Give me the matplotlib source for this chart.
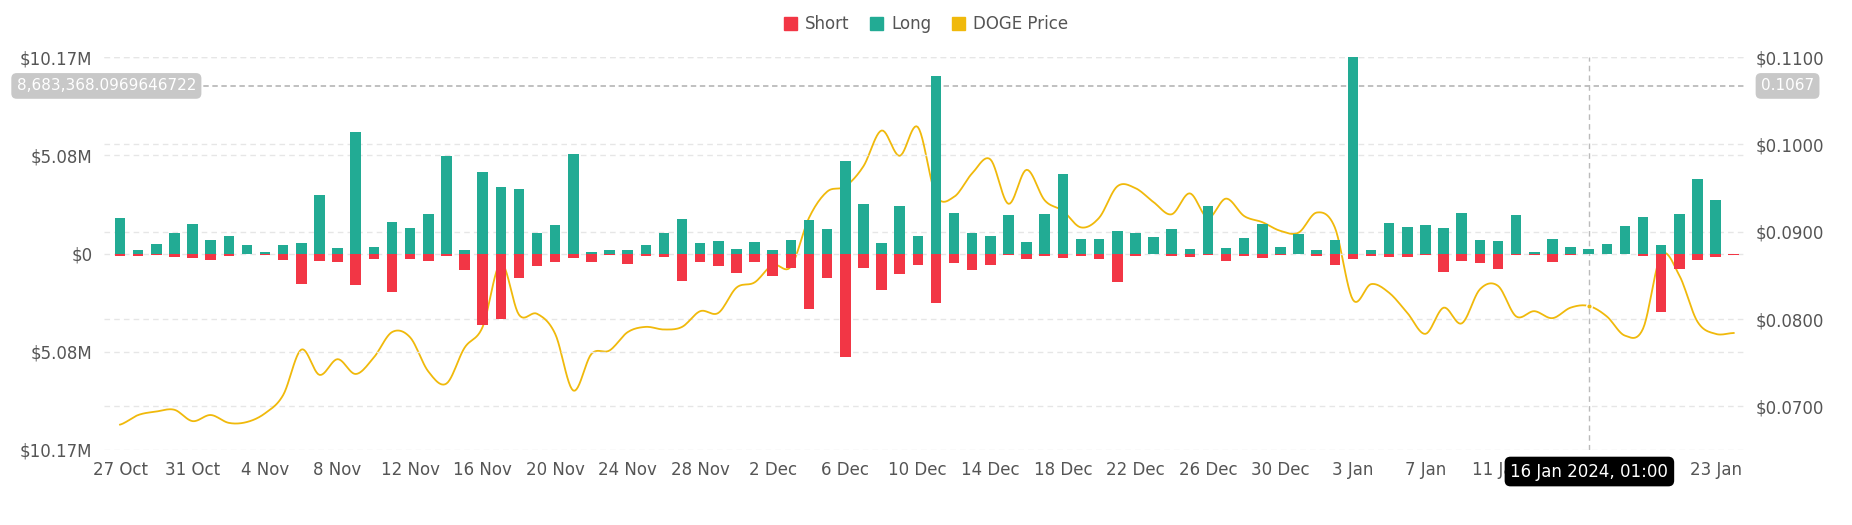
import numpy as np
import matplotlib
matplotlib.use("Agg")
import matplotlib.pyplot as plt
import matplotlib.transforms as mtransforms
from matplotlib.patches import Patch
import datetime as dt

start = dt.date(2023, 10, 27)
dates = [start + dt.timedelta(days=i) for i in range(90)]

long_m = [1.82,0.21,0.51,1.09,1.54,0.72,0.89,0.47,0.09,0.47,0.54,3.04,0.28,6.3,0.32,1.61,1.30,2.07,5.04,0.21,
          4.21,3.44,3.37,1.05,1.49,5.18,0.07,0.21,0.19,0.42,1.05,1.79,0.53,0.63,0.26,0.58,0.21,0.68,1.72,1.26,
          4.81,2.56,0.53,2.47,0.89,9.21,2.11,1.07,0.93,1.98,0.58,2.07,4.14,0.77,0.74,1.18,1.04,0.84,1.26,0.25,
          2.47,0.28,0.82,1.53,0.35,1.0,0.16,0.72,10.3,0.16,1.58,1.4,1.49,1.32,2.12,0.68,0.63,1.98,0.09,0.74,
          0.33,0.23,0.49,1.44,1.88,0.47,2.04,3.86,2.77,0.0]
short_m = [0.14,0.14,0.09,0.19,0.25,0.32,0.1,0.04,0.09,0.32,1.6,0.37,0.44,1.65,0.3,2.0,0.28,0.4,0.12,0.84,
           3.7,3.4,1.28,0.65,0.46,0.21,0.44,0.05,0.54,0.1,0.19,1.44,0.46,0.63,1.02,0.46,1.18,0.77,2.89,1.25,
           5.35,0.77,1.89,1.05,0.61,2.54,0.49,0.84,0.58,0.05,0.28,0.1,0.25,0.12,0.3,1.46,0.14,0.0,0.14,0.19,
           0.05,0.37,0.14,0.23,0.05,0.04,0.14,0.6,0.28,0.14,0.18,0.18,0.05,0.96,0.37,0.49,0.81,0.07,0.05,0.44,
           0.05,0.04,0.0,0.02,0.14,3.04,0.81,0.35,0.18,0.07]
price = [0.0679,0.0690,0.0694,0.0696,0.0683,0.0690,0.0681,0.0682,0.0692,0.0713,0.0765,0.0736,0.0754,0.0737,0.0756,
         0.0785,0.0779,0.0740,0.0726,0.0767,0.0791,0.0864,0.0805,0.0806,0.0783,0.0718,0.0760,0.0764,0.0785,0.0791,
         0.0788,0.0791,0.0809,0.0807,0.0836,0.0842,0.0862,0.0860,0.0916,0.0946,0.0952,0.0975,0.1016,0.0987,0.1020,
         0.0942,0.0940,0.0967,0.0983,0.0932,0.0971,0.0936,0.0924,0.0905,0.0916,0.0952,0.0950,0.0934,0.0920,0.0944,
         0.0916,0.0938,0.0918,0.0911,0.0901,0.0899,0.0922,0.0905,0.0822,0.0840,0.0830,0.0807,0.0783,0.0813,0.0795,
         0.0834,0.0838,0.0803,0.0809,0.0801,0.0813,0.0815,0.0803,0.0781,0.0789,0.0873,0.0850,0.0797,0.0783,0.0784]

C_SHORT = "#F23645"; C_LONG = "#22AB94"; C_PRICE = "#F0B90B"; GRID = "#e6e6e6"; TXT = "#555555"

def catmull(x, y, n=12):
    x = np.asarray(x, float); y = np.asarray(y, float)
    xs, ys = [], []
    for i in range(len(x) - 1):
        p0 = y[max(i - 1, 0)]; p1 = y[i]; p2 = y[i + 1]; p3 = y[min(i + 2, len(y) - 1)]
        t = np.linspace(0, 1, n, endpoint=False)
        ys.append(0.5 * ((2 * p1) + (-p0 + p2) * t + (2 * p0 - 5 * p1 + 4 * p2 - p3) * t**2 + (-p0 + 3 * p1 - 3 * p2 + p3) * t**3))
        xs.append(x[i] + (x[i + 1] - x[i]) * t)
    xs.append([x[-1]]); ys.append([y[-1]])
    return np.concatenate(xs), np.concatenate(ys)

fig = plt.figure(figsize=(18.52, 5.25), dpi=100)
ax = fig.add_axes([0.056, 0.143, 0.886, 0.748])
x = np.arange(len(dates))
ax.bar(x, long_m, width=0.58, color=C_LONG, zorder=2)
ax.bar(x, [-v for v in short_m], width=0.58, color=C_SHORT, zorder=2)
ax.set_ylim(-10.17, 10.17)
ax.set_xlim(-0.9, 89.6)
ax.set_yticks([-10.17, -5.08, 0, 5.08, 10.17])
ax.set_yticklabels(["$10.17M", "$5.08M", "$0", "$5.08M", "$10.17M"])
for v in [-10.17, -5.08, 0, 5.08, 10.17]:
    ax.axhline(v, color=GRID, ls=(0, (4, 3)), lw=1, zorder=0)
ticks = list(range(0, 90, 4))
ax.set_xticks(ticks)
ax.set_xticklabels([f"{dates[i].day} {dates[i].strftime('%b')}" for i in ticks])
for s in ax.spines.values():
    s.set_visible(False)
ax.tick_params(length=0, labelsize=12, colors=TXT, pad=8)

ax2 = ax.twinx()
px, py = catmull(x, price)
ax2.plot(px, py, color=C_PRICE, lw=1.3, zorder=3)
ax2.set_ylim(0.065, 0.110)
ax2.set_yticks([0.07, 0.08, 0.09, 0.10, 0.11])
ax2.set_yticklabels([f"${v:.4f}" for v in [0.07, 0.08, 0.09, 0.10, 0.11]])
for v in [0.07, 0.08, 0.09, 0.10, 0.11]:
    ax2.axhline(v, color=GRID, ls=(0, (4, 3)), lw=1, zorder=0)
for s in ax2.spines.values():
    s.set_visible(False)
ax2.tick_params(length=0, labelsize=12, colors=TXT, pad=8)
ax.set_zorder(ax2.get_zorder() + 1); ax.patch.set_visible(False)

# hover crosshair
hx = 81 + 1 / 24
ax.axvline(hx, color="#bbbbbb", ls=(0, (4, 3)), lw=1, zorder=1)
ax.axhline(8.683, color="#bbbbbb", ls=(0, (3, 2)), lw=1.3, zorder=1)
ax2.plot([hx], [0.0815], "o", ms=4, mfc=C_PRICE, mec="white", zorder=4)
ax.text(0.009, 8.683, "8,683,368.0969646722",
        transform=mtransforms.blended_transform_factory(fig.transFigure, ax.transData),
        ha="left", va="center", fontsize=11, color="white", zorder=10,
        bbox=dict(boxstyle="round,pad=0.35", fc="#c8c8c8", ec="none"))
ax.text(1.01, 8.683, "0.1067", transform=ax.get_yaxis_transform(), ha="left", va="center",
        fontsize=11, color="white", bbox=dict(boxstyle="round,pad=0.35", fc="#c8c8c8", ec="none"))
ax.text(hx, -0.055, "16 Jan 2024, 01:00", transform=ax.get_xaxis_transform(), ha="center", va="center",
        fontsize=12, color="white", zorder=10, bbox=dict(boxstyle="round,pad=0.35", fc="black", ec="none"))

handles = [Patch(color=C_SHORT, label="Short"), Patch(color=C_LONG, label="Long"), Patch(color=C_PRICE, label="DOGE Price")]
fig.legend(handles=handles, loc="upper center", bbox_to_anchor=(0.5, 1.0), ncol=3, frameon=False,
           fontsize=12, handlelength=0.8, handleheight=0.8, columnspacing=1.2, handletextpad=0.5, labelcolor=TXT)
fig.savefig("out.png", dpi=100)
